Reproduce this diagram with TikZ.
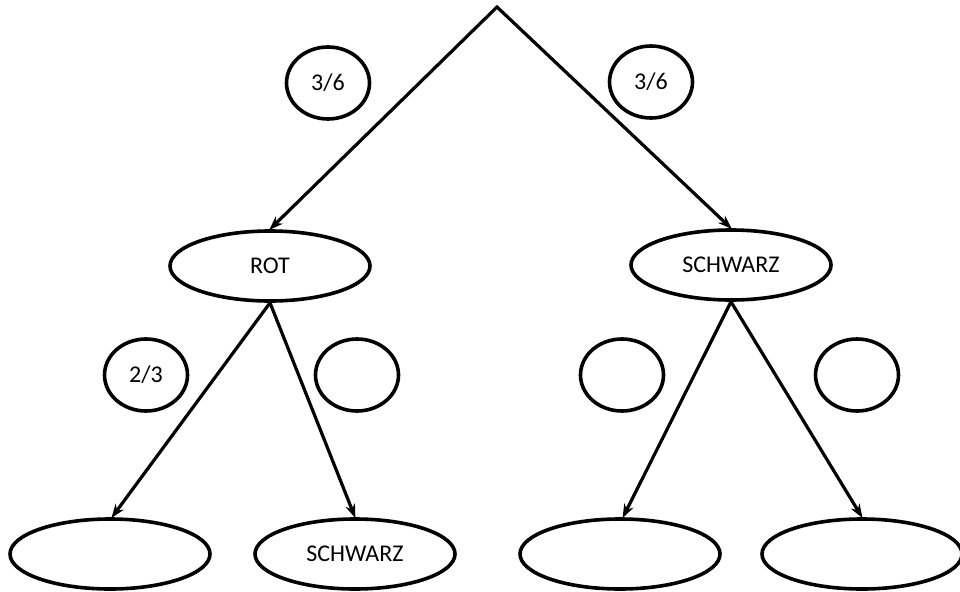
\documentclass[tikz,border=0pt]{standalone}
\usepackage{fontspec}
\setmainfont{Carlito}
\usetikzlibrary{shapes.geometric,arrows.meta}
\begin{document}
\begin{tikzpicture}[x=1pt,y=-1pt,
  every node/.style={font=\fontsize{24}{28}\selectfont},
  bigell/.style={draw,ellipse,line width=3.6pt,inner sep=0pt,minimum width=200pt,minimum height=70pt},
  prob/.style={draw,ellipse,line width=3.6pt,inner sep=0pt,minimum width=83pt,minimum height=72pt},
  tip/.tip={Stealth[length=14pt,width=10pt]},
  conn/.style={line width=3.2pt,-tip,shorten >=-1pt}]
\useasboundingbox (0,0) rectangle (960,591);
\coordinate (top) at (497,7);
\node[bigell] (rot) at (270,266) {ROT};
\node[bigell] (sch) at (731,265) {SCHWARZ};
\node[prob] (p1) at (328,83) {3/6};
\node[prob] (p2) at (651,82) {3/6};
\node[prob] (p3) at (146,375) {2/3};
\node[prob] (p4) at (357,375) {};
\node[prob] (p5) at (622,375) {};
\node[prob] (p6) at (857,375) {};
\node[bigell] (b1) at (110,554) {};
\node[bigell] (b2) at (355,554) {SCHWARZ};
\node[bigell] (b3) at (620,554) {};
\node[bigell] (b4) at (862,554) {};
\draw[line width=3.2pt,line join=miter,tip-tip,shorten >=-1pt,shorten <=-1pt] (rot.north) -- (top) -- (sch.north);
\draw[conn] (rot.south) -- ([xshift=2pt]b1.north);
\draw[conn] (rot.south) -- (b2.north);
\draw[conn] (sch.south) -- ([xshift=3pt]b3.north);
\draw[conn] (sch.south) -- (b4.north);
\end{tikzpicture}
\end{document}
